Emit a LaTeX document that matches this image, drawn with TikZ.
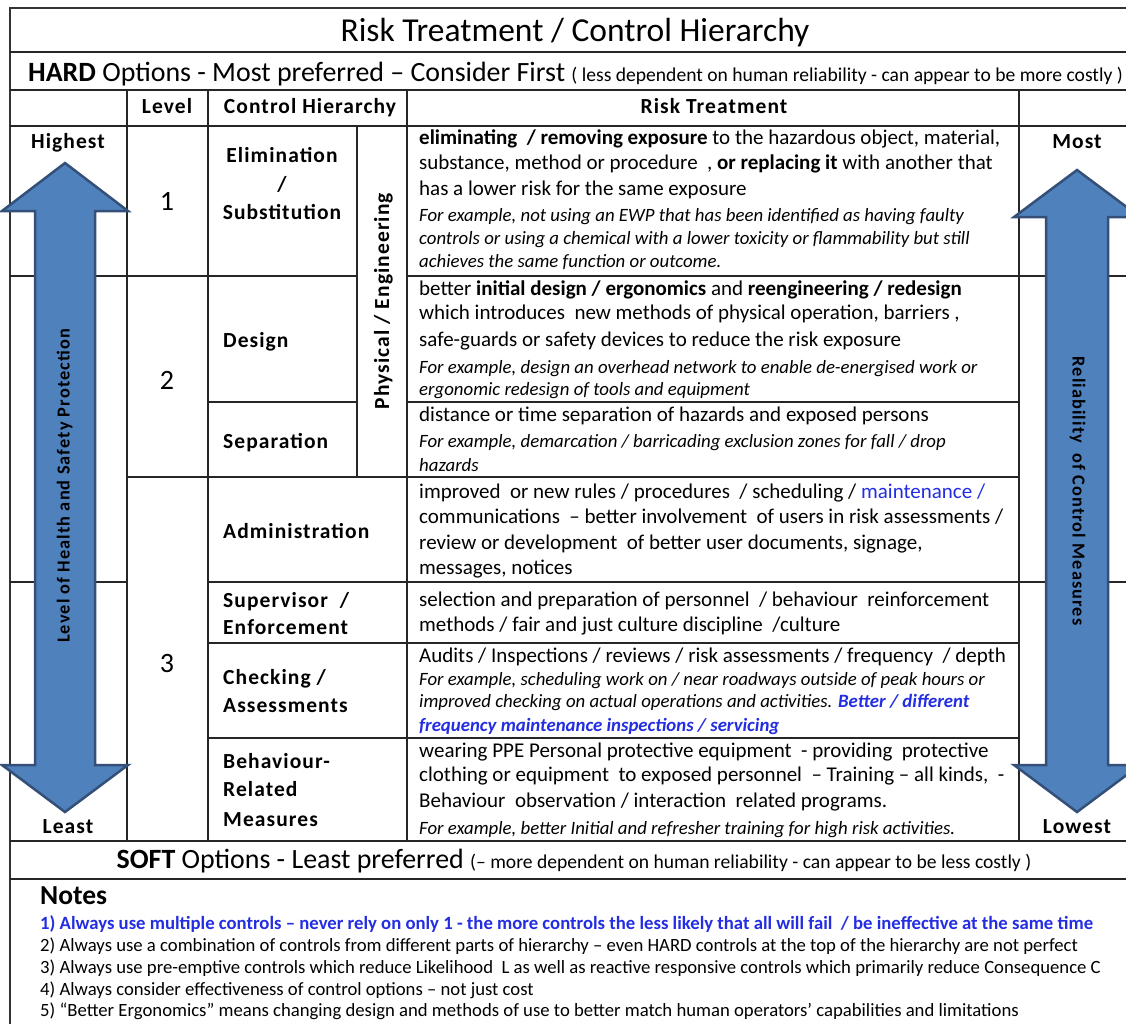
\documentclass[tikz,border=0pt]{standalone}
\usepackage{fontspec}
\setmainfont{Carlito}
\newfontfamily\lsfont[LetterSpace=5]{Carlito}
\newfontfamily\lsafont[LetterSpace=6]{Carlito}
\definecolor{arrowfill}{RGB}{79,129,189}
\definecolor{arrowedge}{RGB}{52,80,120}
\definecolor{txtblue}{RGB}{35,45,225}
\newcommand\myfs[1]{\fontsize{#1}{#1}\selectfont}
\begin{document}
\begin{tikzpicture}[x=1pt,y=-1pt,
  rule/.style={line width=1.1pt, draw=black!85},
  frame/.style={line width=1.6pt, draw=black!80},
  body/.style={anchor=west, inner sep=0pt, font=\myfs{21}, text height=14pt, text depth=4pt},
  ex/.style={anchor=west, inner sep=0pt, font=\myfs{18.8}\itshape, text height=12.5pt, text depth=3.5pt},
  lab/.style={anchor=west, inner sep=0pt, font=\lsfont\myfs{21.5}\bfseries, text height=14pt, text depth=4pt},
  clab/.style={anchor=center, inner sep=0pt, font=\lsfont\myfs{21.5}\bfseries, text height=14pt, text depth=4pt},
  num/.style={anchor=center, inner sep=0pt, font=\myfs{28}, text height=19pt, text depth=0pt},
  note/.style={anchor=west, inner sep=0pt, font=\myfs{18.7}, text height=12.5pt, text depth=3.5pt},
  blockarrow/.style={fill=arrowfill, draw=arrowedge, line width=2.5pt, line join=miter},
  arrowtext/.style={anchor=center, inner sep=0pt, font=\lsafont\myfs{18.3}\bfseries, text height=12.5pt, text depth=3.5pt}
]
\useasboundingbox (0,0) rectangle (1126,1023);
\clip (0,0) rectangle (1126,1023);
\fill[white] (0,0) rectangle (1126,1023);

% ---- grid ----
\draw[frame] (10,8) rectangle (1138,1045);
\draw[rule] (10,52) -- (1138,52);
\draw[rule] (10,90) -- (1138,90);
\draw[rule] (10,126) -- (1138,126);
\draw[rule] (10,841) -- (1138,841);
\draw[rule] (10,879) -- (1138,879);
\foreach \xx in {127,208,407,1019} \draw[rule] (\xx,90) -- (\xx,841);
\draw[rule] (357,126) -- (357,477);
\draw[rule] (10,276) -- (357,276);
\draw[rule] (407,276) -- (1138,276);
\draw[rule] (208,402) -- (357,402);
\draw[rule] (407,402) -- (1019,402);
\draw[rule] (127,477) -- (1019,477);
\draw[rule] (10,582) -- (127,582);
\draw[rule] (208,582) -- (1138,582);
\draw[rule] (208,643) -- (1019,643);
\draw[rule] (208,738) -- (1019,738);

% ---- block arrows ----
\draw[blockarrow] (65,163) -- (128,211) -- (95,211) -- (95,765) -- (128,765) -- (65,812)
   -- (2,765) -- (35,765) -- (35,211) -- (2,211) -- cycle;
\draw[blockarrow] (1077,170) -- (1140,217) -- (1108,217) -- (1108,765) -- (1140,765) -- (1077,812)
   -- (1014,765) -- (1046,765) -- (1046,217) -- (1014,217) -- cycle;
\node[arrowtext, rotate=90] (leftarrowtxt) at (65,486) {Level of Health and Safety Protection};
\node[arrowtext, rotate=-90] (rightarrowtxt) at (1077,491) {Reliability~ of Control Measures};

% ---- titles ----
\node[anchor=center, inner sep=0pt, font=\myfs{33.5}] (title) at (575,33) {Risk Treatment / Control Hierarchy};
\node[anchor=west, inner sep=0pt, font=\myfs{27.9}, text height=18pt, text depth=6pt] (hard) at (28,75)
  {\textbf{HARD} Options - Most preferred – Consider First {\myfs{19.6}( less dependent on human reliability - can appear to be more costly )}};
\node[anchor=center, inner sep=0pt, font=\myfs{27.9}, text height=18pt, text depth=6pt] (soft) at (574,862)
  {\textbf{SOFT} Options - Least preferred {\myfs{19.6}(– more dependent on human reliability - can appear to be less costly )}};

% ---- header ----
\node[clab] (hlevel) at (167,108) {Level};
\node[clab] (hctrl) at (310,108) {Control Hierarchy};
\node[clab] (hrisk) at (714,108) {Risk Treatment};

% ---- side labels ----
\node[clab] (highest) at (68,143) {Highest};
\node[clab] (least) at (68,828) {Least};
\node[clab] (most) at (1077,143) {Most};
\node[clab] (lowest) at (1077,828) {Lowest};

% ---- levels ----
\node[num] (lv1) at (167,201) {1};
\node[num] (lv2) at (167,380) {2};
\node[num] (lv3) at (167,663) {3};

% ---- control names ----
\node[clab] (c1a) at (282,157) {Elimination};
\node[clab] (c1b) at (282,186) {/};
\node[clab] (c1c) at (282,214) {Substitution};
\node[lab] (c2) at (223,342) {Design};
\node[lab] (c3) at (223,443) {Separation};
\node[lab] (c4) at (223,533) {Administration};
\node[lab] (c5a) at (223,602) {Supervisor~ /};
\node[lab] (c5b) at (223,629) {Enforcement};
\node[lab] (c6a) at (223,679) {Checking /};
\node[lab] (c6b) at (223,707) {Assessments};
\node[lab] (c7a) at (223,763) {Behaviour-};
\node[lab] (c7b) at (223,791) {Related};
\node[lab] (c7c) at (223,821) {Measures};
\node[clab, rotate=90] (phys) at (384,301) {Physical / Engineering};

% ---- risk treatment texts ----
\node[body] (r1a) at (419,139) {\textbf{eliminating~ / removing exposure} to the hazardous object, material,};
\node[body] (r1b) at (419,164) {substance, method or procedure~ , \textbf{or replacing it} with another that};
\node[body] (r1c) at (419,190) {has a lower risk for the same exposure};
\node[ex] (r1d) at (419,217) {For example, not using an EWP that has been identified as having faulty};
\node[ex] (r1e) at (419,240) {controls or using a chemical with a lower toxicity or flammability but still};
\node[ex] (r1f) at (419,263) {achieves the same function or outcome.};

\node[body] (r2a) at (419,290) {better \textbf{initial design / ergonomics} and \textbf{reengineering / redesign}};
\node[body] (r2b) at (419,314) {which introduces~ new methods of physical operation, barriers ,};
\node[body] (r2c) at (419,341) {safe-guards or safety devices to reduce the risk exposure};
\node[ex] (r2d) at (419,369) {For example, design an overhead network to enable de-energised work or};
\node[ex] (r2e) at (419,391) {ergonomic redesign of tools and equipment};

\node[body] (r3a) at (419,416) {distance or time separation of hazards and exposed persons};
\node[ex] (r3b) at (419,443) {For example, demarcation / barricading exclusion zones for fall / drop};
\node[ex] (r3c) at (419,467) {hazards};

\node[body] (r4a) at (419,493) {improved~ or new rules / procedures~ / scheduling / \textcolor{txtblue}{maintenance /}};
\node[body] (r4b) at (419,518) {communications~ – better involvement~ of users in risk assessments /};
\node[body] (r4c) at (419,544) {review or development~ of better user documents, signage,};
\node[body] (r4d) at (419,569) {messages, notices};

\node[body] (r5a) at (419,601) {selection and preparation of personnel~ / behaviour~ reinforcement};
\node[body] (r5b) at (419,626) {methods / fair and just culture discipline~ /culture};

\node[body] (r6a) at (419,657) {Audits / Inspections / reviews / risk assessments / frequency~ / depth};
\node[ex] (r6b) at (419,681) {For example, scheduling work on / near roadways outside of peak hours or};
\node[ex] (r6c) at (419,703) {improved checking on actual operations and activities. \textcolor{txtblue}{\bfseries Better / different}};
\node[ex, text=txtblue, font=\myfs{18.8}\itshape\bfseries] (r6d) at (419,727) {frequency maintenance inspections / servicing};

\node[body] (r7a) at (419,752) {wearing PPE Personal protective equipment~ - providing~ protective};
\node[body] (r7b) at (419,776) {clothing or equipment~ to exposed personnel~ – Training – all kinds,~ -};
\node[body] (r7c) at (419,802) {Behaviour~ observation / interaction~ related programs.};
\node[ex] (r7d) at (419,830) {For example, better Initial and refresher training for high risk activities.};

% ---- notes ----
\node[anchor=west, inner sep=0pt, font=\myfs{27.5}\bfseries, text height=19pt, text depth=6pt] (notes) at (40,898) {Notes};
\node[note, text=txtblue, font=\myfs{18.7}\bfseries] (n1) at (40,925) {1) Always use multiple controls – never rely on only 1 - the more controls the less likely that all will fail~ / be ineffective at the same time};
\node[note] (n2) at (40,947) {2) Always use a combination of controls from different parts of hierarchy – even HARD controls at the top of the hierarchy are not perfect};
\node[note] (n3) at (40,969) {3) Always use pre-emptive controls which reduce Likelihood~ L as well as reactive responsive controls which primarily reduce Consequence C};
\node[note] (n4) at (40,991) {4) Always consider effectiveness of control options – not just cost};
\node[note] (n5) at (40,1012) {5) “Better Ergonomics” means changing design and methods of use to better match human operators’ capabilities and limitations};
\end{tikzpicture}
\end{document}
